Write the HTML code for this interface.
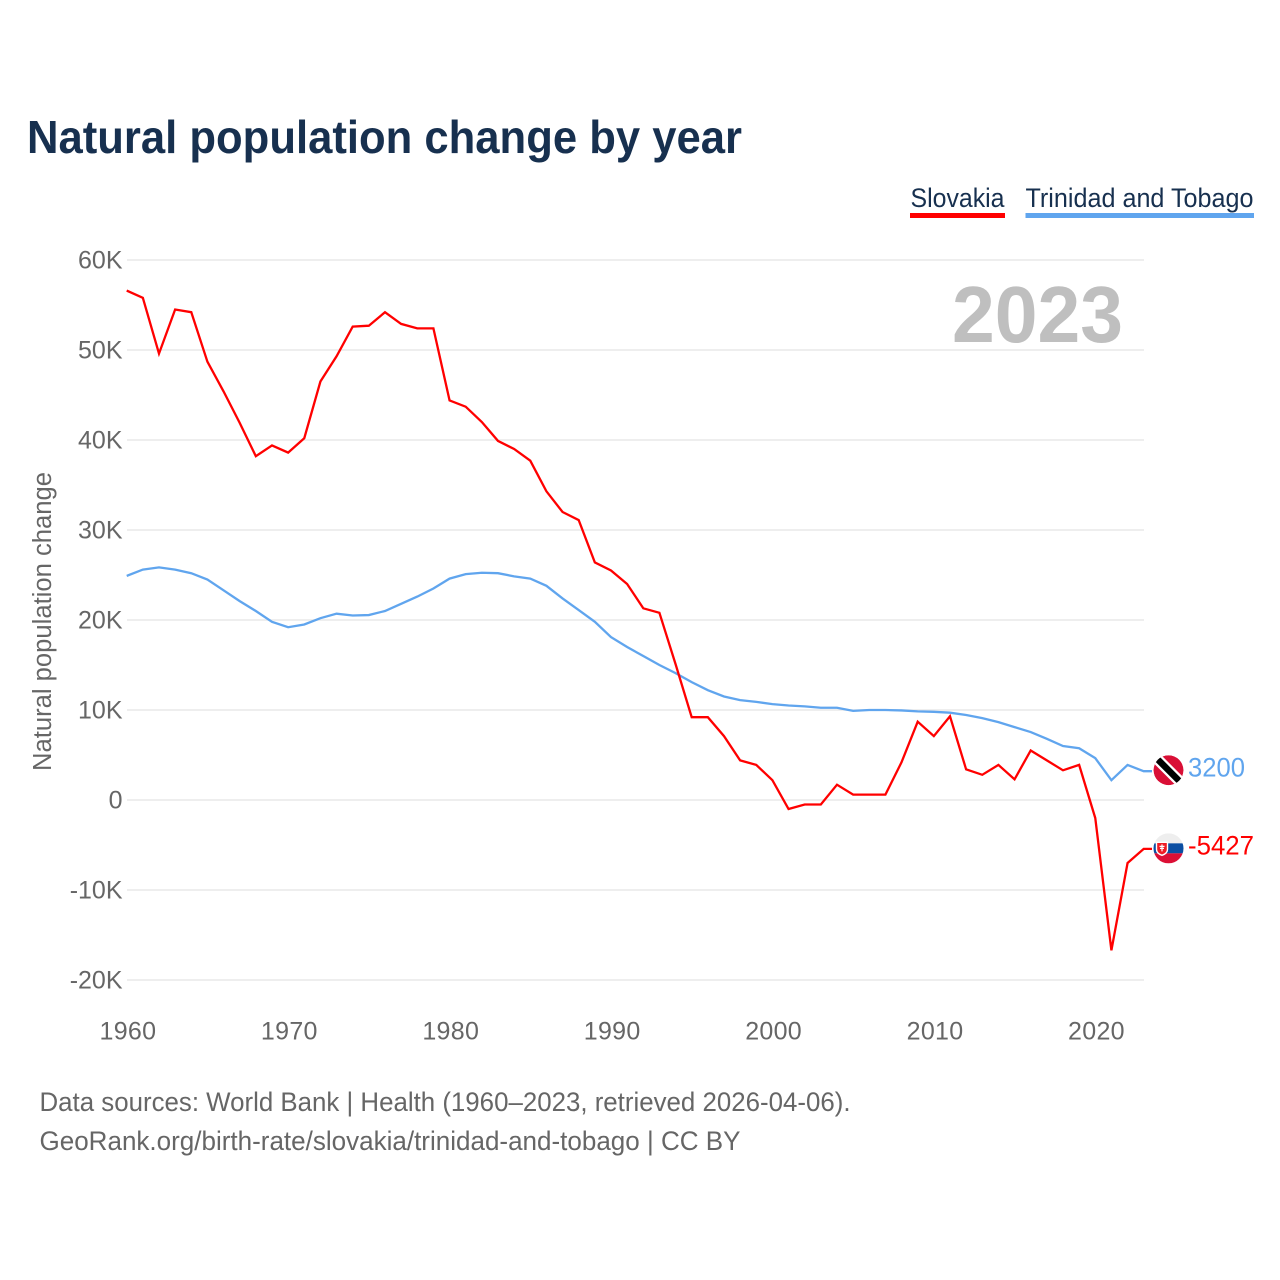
<!DOCTYPE html>
<html lang="en">
<head>
<meta charset="utf-8">
<title>Natural population change by year</title>
<style>
html,body{margin:0;padding:0;background:#fff;width:1280px;height:1280px;overflow:hidden}
svg{display:block}
text{font-family:"Liberation Sans",sans-serif}
</style>
</head>
<body>
<svg id="chart" xmlns="http://www.w3.org/2000/svg" width="1280" height="1280" viewBox="0 0 1280 1280">
  <defs>
    <clipPath id="flag-clip"><circle cx="0" cy="0" r="15"/></clipPath>
  </defs>
  <rect width="1280" height="1280" fill="#fff"/>
  <text x="27" y="153" font-size="46.5" font-weight="700" fill="#17304f" textLength="715" lengthAdjust="spacingAndGlyphs">Natural population change by year</text>

  <g>
    <g>
      <text x="910.5" y="207" font-size="26.5" fill="#17304f" textLength="94" lengthAdjust="spacingAndGlyphs">Slovakia</text>
      <rect x="910" y="213" width="95" height="5" fill="#ff0000"/>
    </g>
    <g>
      <text x="1025.5" y="207" font-size="26.5" fill="#17304f" textLength="228" lengthAdjust="spacingAndGlyphs">Trinidad and Tobago</text>
      <rect x="1025.5" y="213" width="228.5" height="5" fill="#60a5ee"/>
    </g>
  </g>

  <g id="grid"></g>
  <g id="yticks"></g>
  <g id="xticks"></g>

  <text transform="translate(51,771) rotate(-90)" font-size="25.5" fill="#666" textLength="299" lengthAdjust="spacingAndGlyphs">Natural population change</text>
  <text x="952" y="342" font-size="80" font-weight="700" fill="#bfbfbf" textLength="171" lengthAdjust="spacingAndGlyphs">2023</text>

  <g id="series"></g>

  <g id="flag-tt">
    <g clip-path="url(#flag-clip)">
      <circle cx="0" cy="0" r="15" fill="#d90f36"/>
      <line x1="-18" y1="-18" x2="18" y2="18" stroke="#fff" stroke-width="11"/>
      <line x1="-18" y1="-18" x2="18" y2="18" stroke="#000" stroke-width="6.5"/>
    </g>
  </g>
  <g id="flag-sk">
    <g clip-path="url(#flag-clip)">
      <rect x="-15" y="-15" width="30" height="10" fill="#eeeeee"/>
      <rect x="-15" y="-5" width="30" height="10" fill="#0b4ea2"/>
      <rect x="-15" y="5" width="30" height="10" fill="#dc0f35"/>
      <path d="M-12,-6 H-1 V1 Q-1,5 -6.5,7 Q-12,5 -12,1 Z" fill="#ee1c25" stroke="#fff" stroke-width="1.4"/>
      <path d="M-6.5,-4 V3 M-9,-2 H-4 M-8.5,0 H-4.5" stroke="#fff" stroke-width="1.2" fill="none"/>
    </g>
  </g>
  <text id="label-tt" x="1188" font-size="26.5" fill="#60a5ee" textLength="57" lengthAdjust="spacingAndGlyphs">3200</text>
  <text id="label-sk" x="1188" font-size="26.5" fill="#ff0000" textLength="66" lengthAdjust="spacingAndGlyphs">-5427</text>

  <text x="39.5" y="1111" font-size="26.5" fill="#666" textLength="811" lengthAdjust="spacingAndGlyphs">Data sources: World Bank | Health (1960–2023, retrieved 2026-04-06).</text>
  <text x="39.5" y="1150" font-size="26.5" fill="#666" textLength="701" lengthAdjust="spacingAndGlyphs">GeoRank.org/birth-rate/slovakia/trinidad-and-tobago | CC BY</text>
</svg>
<script>
const startYear = 1960;
const endYear = 2023;
const slovakia = [56.6,55.8,49.6,54.5,54.2,48.7,45.4,41.9,38.2,39.4,38.6,40.2,46.5,49.3,52.6,52.7,54.2,52.9,52.4,52.4,44.4,43.7,42.0,39.9,39.0,37.7,34.3,32.0,31.1,26.4,25.5,24.0,21.3,20.8,15.1,9.2,9.2,7.1,4.4,3.9,2.2,-1.0,-0.5,-0.5,1.7,0.6,0.6,0.6,4.2,8.7,7.1,9.3,3.4,2.8,3.9,2.3,5.5,4.4,3.3,3.9,-2.0,-16.7,-7.0,-5.427];
const trinidad = [24.9,25.6,25.85,25.6,25.2,24.5,23.3,22.1,21.0,19.8,19.2,19.5,20.2,20.7,20.5,20.55,21.0,21.8,22.6,23.5,24.6,25.1,25.25,25.2,24.85,24.6,23.8,22.4,21.1,19.8,18.1,17.0,16.0,15.0,14.1,13.1,12.2,11.5,11.1,10.9,10.65,10.5,10.4,10.25,10.25,9.9,10.0,10.0,9.95,9.85,9.8,9.7,9.45,9.1,8.65,8.1,7.55,6.8,6.0,5.75,4.65,2.2,3.9,3.2];
const yTickValues = [60,50,40,30,20,10,0,-10,-20];
const yTickLabels = ["60K","50K","40K","30K","20K","10K","0","-10K","-20K"];
const xTickYears = [1960,1970,1980,1990,2000,2010,2020];

const NS = "http://www.w3.org/2000/svg";
function xScale(year){ return 126.7 + (year - startYear) * (1143.7 - 126.7) / (endYear - startYear); }
function yScale(v){ return 800 - v * 9; }

const grid = document.getElementById("grid");
const yticks = document.getElementById("yticks");
const xticks = document.getElementById("xticks");
const series = document.getElementById("series");

yTickValues.forEach(function(v, i){
  const line = document.createElementNS(NS, "line");
  
  
  line.setAttribute("x1", 127);
  line.setAttribute("x2", 1144);
  line.setAttribute("y1", yScale(v));
  line.setAttribute("y2", yScale(v));
  line.setAttribute("stroke", "#e9e9e9");
  line.setAttribute("stroke-width", "1.6");
  grid.appendChild(line);

  const t = document.createElementNS(NS, "text");
  
  
  t.setAttribute("x", 122.5);
  t.setAttribute("y", yScale(v) + 8.3);
  t.setAttribute("text-anchor", "end");
  t.setAttribute("font-size", "25");
  t.setAttribute("fill", "#666");
  t.textContent = yTickLabels[i];
  yticks.appendChild(t);
});

xTickYears.forEach(function(y){
  const t = document.createElementNS(NS, "text");
  
  
  t.setAttribute("x", xScale(y) + 1.2);
  t.setAttribute("y", 1039.5);
  t.setAttribute("text-anchor", "middle");
  t.setAttribute("font-size", "25");
  t.setAttribute("letter-spacing", "0.3");
  t.setAttribute("fill", "#666");
  t.textContent = String(y);
  xticks.appendChild(t);
});

function drawSeries(values, color, name){
  const pts = values.map(function(v, i){ return xScale(startYear + i).toFixed(2) + "," + yScale(v).toFixed(2); });
  const last = yScale(values[values.length - 1]);
  pts.push("1152," + last.toFixed(2));
  const p = document.createElementNS(NS, "polyline");
  
  
  p.setAttribute("points", pts.join(" "));
  p.setAttribute("fill", "none");
  p.setAttribute("stroke", color);
  p.setAttribute("stroke-width", "2.3");
  p.setAttribute("stroke-linejoin", "miter");
  series.appendChild(p);
  return last;
}
const trinidadEnd = drawSeries(trinidad, "#60a5ee", "line-trinidad-and-tobago");
const slovakiaEnd = drawSeries(slovakia, "#ff0000", "line-slovakia");

document.getElementById("flag-tt").setAttribute("transform", "translate(1168.5," + (trinidadEnd - 1) + ")");
document.getElementById("flag-sk").setAttribute("transform", "translate(1168.5," + (slovakiaEnd - 0.5) + ")");
document.getElementById("label-tt").setAttribute("y", trinidadEnd + 5.5);
document.getElementById("label-sk").setAttribute("y", slovakiaEnd + 5.5);
</script>
</body>
</html>
